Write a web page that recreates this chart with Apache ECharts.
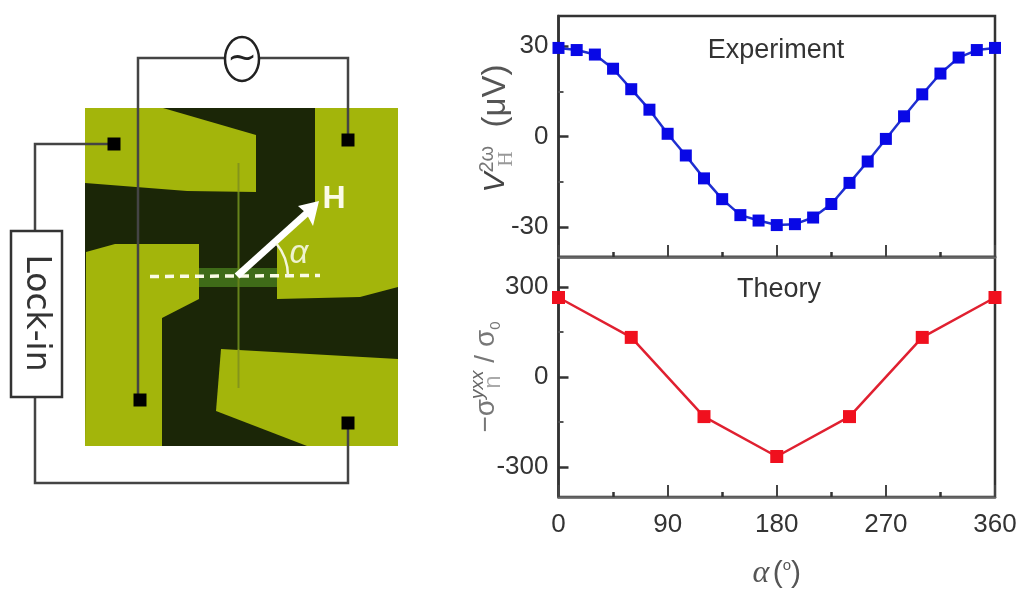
<!DOCTYPE html>
<html><head><meta charset="utf-8">
<style>html,body{margin:0;padding:0;background:#fff}#c{width:1024px;height:600px;filter:blur(0.4px)}</style>
<script src="https://cdn.jsdelivr.net/npm/echarts@6/dist/echarts.min.js"></script>
</head><body><div id="c"></div>
<script>
// ---- data ----
const expAngles = [0,15,30,45,60,75,90,105,120,135,150,165,180,195,210,225,240,255,270,285,300,315,330,345,360];
const expValues = [29.4,28.7,27.2,22.5,15.7,8.9,0.9,-6.3,-13.9,-20.8,-26.1,-27.9,-29.4,-29.1,-26.9,-22.4,-15.4,-8.3,-0.8,6.7,14,20.9,26.2,28.7,29.4];
const theoryAngles = [0,60,120,180,240,300,360];
const theoryValues = [265,132,-132,-265,-132,132,265];
const expTicks = [-30,0,30];
const expMinorTicks = [-15,15];
const theoryTicks = [-300,0,300];
const theoryMinorTicks = [-150,150];

// ---- schematic (device illustration) ----
const OLIVE='#a3b50b', DARK='#1b2607', WIRE='#444';
const padShapes = [
  [[85,108],[163,108],[256,135],[256,192],[187,191],[85,183]],
  [[315,108],[398,108],[398,287],[360,297],[277,299],[277,240],[315,202]],
  [[86,252],[115,244],[199,244],[199,299],[162,318],[162,446],[85,446]],
  [[221,349],[398,359],[398,446],[307,446],[216,411]]
];
const channelParts = [[163,192,'#84951a'],[192,349,'#66831a'],[349,388,'#84951a']];
const wirePaths = [
  [[138,400],[138,58],[348,58],[348,140]],
  [[114,144],[35,144],[35,232]],
  [[35,397],[35,483],[348,483],[348,423]]
];
const contacts = [[114,144],[348,140],[140,400],[348,423]];
const graphicEls = [];
graphicEls.push({type:'rect',shape:{x:85,y:108,width:313,height:338},style:{fill:DARK}});
padShapes.forEach(p=>graphicEls.push({type:'polygon',shape:{points:p},style:{fill:OLIVE}}));
graphicEls.push({type:'rect',shape:{x:199,y:268,width:78,height:19},style:{fill:'#3f6b18'}});
channelParts.forEach(c=>graphicEls.push({type:'line',shape:{x1:238.5,y1:c[0],x2:238.5,y2:c[1]},style:{stroke:c[2],lineWidth:2}}));
wirePaths.forEach(p=>graphicEls.push({type:'polyline',shape:{points:p},style:{stroke:WIRE,lineWidth:2.5,fill:null}}));
contacts.forEach(c=>graphicEls.push({type:'rect',shape:{x:c[0]-6.5,y:c[1]-6.5,width:13,height:13},style:{fill:'#000'}}));
graphicEls.push({type:'ellipse',shape:{cx:242,cy:59,rx:17,ry:22},style:{fill:'#fff',stroke:'#222',lineWidth:2.5}});
graphicEls.push({type:'text',x:242,y:60,style:{text:'~',font:'36px "DejaVu Sans"',fill:'#222',textAlign:'center',textVerticalAlign:'middle'}});
graphicEls.push({type:'rect',shape:{x:11,y:231,width:51,height:166},style:{fill:'#fff',stroke:'#333',lineWidth:2.5}});
graphicEls.push({type:'text',x:36,y:313,rotation:-Math.PI/2,style:{text:'Lock-in',font:'33px "DejaVu Sans"',fill:'#333',textAlign:'center',textVerticalAlign:'middle'}});
graphicEls.push({type:'line',shape:{x1:150,y1:276.5,x2:320,y2:275.5},style:{stroke:'#fbfbe6',lineWidth:3.5,lineDash:[9,6]}});
graphicEls.push({type:'line',shape:{x1:237,y1:276,x2:308,y2:212},style:{stroke:'#fff',lineWidth:7}});
graphicEls.push({type:'polygon',shape:{points:[[319,201],[298,206],[306,213],[313,226]]},style:{fill:'#fff'}});
graphicEls.push({type:'arc',shape:{cx:237,cy:276,r:51,startAngle:-0.69,endAngle:0,clockwise:true},style:{stroke:'#f4f6dc',lineWidth:2.5,fill:null}});
graphicEls.push({type:'text',x:334,y:199,style:{text:'H',font:'bold 32px "Liberation Sans"',fill:'#fbfbe8',textAlign:'center',textVerticalAlign:'middle'}});
graphicEls.push({type:'text',x:299,y:254,style:{text:'α',font:'italic 33px "Liberation Sans"',fill:'#eef2cf',textAlign:'center',textVerticalAlign:'middle'}});
// subscripts laid over the rotated axis titles
graphicEls.push({type:'text',x:506,y:159,rotation:Math.PI/2,style:{text:'H',font:'21px "Liberation Serif"',fill:'#999',textAlign:'center',textVerticalAlign:'middle'}});
graphicEls.push({type:'text',x:493,y:382,rotation:Math.PI/2,style:{text:'n',font:'24px "Liberation Sans"',fill:'#aaa',textAlign:'center',textVerticalAlign:'middle'}});

const FONT='"Liberation Sans"', TXT='#333';
const pair=(xs,ys)=>xs.map((x,i)=>[x,ys[i]]);
const xAxisBase = (grid,showLabel,extra)=>Object.assign({
  type:'value',gridIndex:grid,min:0,max:360,interval:90,
  axisLine:{show:true,onZero:false,lineStyle:{color:'#666',width:2.5}},
  axisTick:{inside:true,length:12,lineStyle:{color:'#444',width:2}},
  minorTick:{show:true,splitNumber:2,length:5,lineStyle:{color:'#333',width:2.5}},
  splitLine:{show:false},minorSplitLine:{show:false},
  axisLabel:{show:showLabel,color:TXT,fontFamily:FONT,fontSize:26,margin:15,hideOverlap:false}
},extra||{});
const yMain = (grid,min,max,ticks,name,gap,rich)=>({
  type:'value',gridIndex:grid,min,max,position:'left',
  axisLine:{show:true,onZero:false,lineStyle:{color:'#333',width:2.5}},
  axisTick:{inside:true,length:10,customValues:ticks,lineStyle:{color:'#333',width:2.5}},
  axisLabel:{color:TXT,fontFamily:FONT,fontSize:26,margin:10,customValues:ticks},
  splitLine:{show:false},
  name,nameLocation:'middle',nameGap:gap,nameMoveOverlap:false,nameTextStyle:{rich}
});
const yTicks = (grid,min,max,ticks,len)=>({
  type:'value',gridIndex:grid,min,max,position:'left',
  axisLine:{show:false,onZero:false},
  axisTick:{inside:true,length:len,customValues:ticks,lineStyle:{color:'#555',width:2}},
  axisLabel:{show:false,customValues:ticks},splitLine:{show:false}
});
const option={
  backgroundColor:'#fff',animation:false,
  title:[
    {text:'Experiment',left:771,top:32,textAlign:'center',textStyle:{fontFamily:FONT,fontSize:27,fontWeight:'normal',color:'#333'}},
    {text:'Theory',left:774,top:271,textAlign:'center',textStyle:{fontFamily:FONT,fontSize:27,fontWeight:'normal',color:'#333'}}
  ],
  grid:[
    {left:558.5,right:29,top:16,height:241,show:true,borderColor:'#333',borderWidth:2.5,backgroundColor:'transparent'},
    {left:558.5,right:29,top:257,height:240,show:true,borderColor:'#333',borderWidth:2.5,backgroundColor:'transparent'}
  ],
  xAxis:[
    xAxisBase(0,false),
    xAxisBase(1,true,{name:'{a|α} {b|(}{c|o}{b|)}',nameLocation:'middle',nameGap:61,nameMoveOverlap:false,nameTextStyle:{rich:{
      a:{fontFamily:'"Liberation Serif"',fontStyle:'italic',fontSize:32,color:'#555'},
      b:{fontFamily:FONT,fontSize:30,color:'#555'},
      c:{fontFamily:FONT,fontSize:15,color:'#555',verticalAlign:'top',padding:[0,0,14,0]}
    }}})
  ],
  yAxis:[
    yMain(0,-40,40,expTicks,'{v|V}{s|2ω}{u|  (μV)}',45,{
      v:{fontFamily:FONT,fontStyle:'italic',fontSize:30,color:'#444',padding:[0,0,0,16]},
      s:{fontFamily:FONT,fontSize:20,color:'#777',verticalAlign:'top',padding:[0,0,16,0]},
      u:{fontFamily:FONT,fontSize:33,color:'#555'}
    }),
    yMain(1,-400,400,theoryTicks,'{m|−σ}{s|yxx}{m| / }{m|σ}{t|0}',55,{
      m:{fontFamily:FONT,fontSize:28,color:'#777'},
      s:{fontFamily:FONT,fontStyle:'italic',fontSize:19,color:'#666',verticalAlign:'top',padding:[0,0,16,0]},
      t:{fontFamily:FONT,fontSize:15,color:'#777',verticalAlign:'bottom'}
    }),
    yTicks(0,-40,40,expMinorTicks,5),
    yTicks(1,-400,400,theoryMinorTicks,5)
  ],
  series:[
    {type:'line',xAxisIndex:0,yAxisIndex:0,clip:false,data:pair(expAngles,expValues),symbol:'rect',symbolSize:12,
     lineStyle:{color:'#1f2fd0',width:2.5},itemStyle:{color:'#0808e6'}},
    {type:'line',xAxisIndex:1,yAxisIndex:1,clip:false,data:pair(theoryAngles,theoryValues),symbol:'rect',symbolSize:13,
     lineStyle:{color:'#e02030',width:2.5},itemStyle:{color:'#f0101e'}}
  ],
  graphic:{elements:graphicEls}
};
const chart=echarts.init(document.getElementById('c'));
chart.setOption(option);
</script></body></html>
